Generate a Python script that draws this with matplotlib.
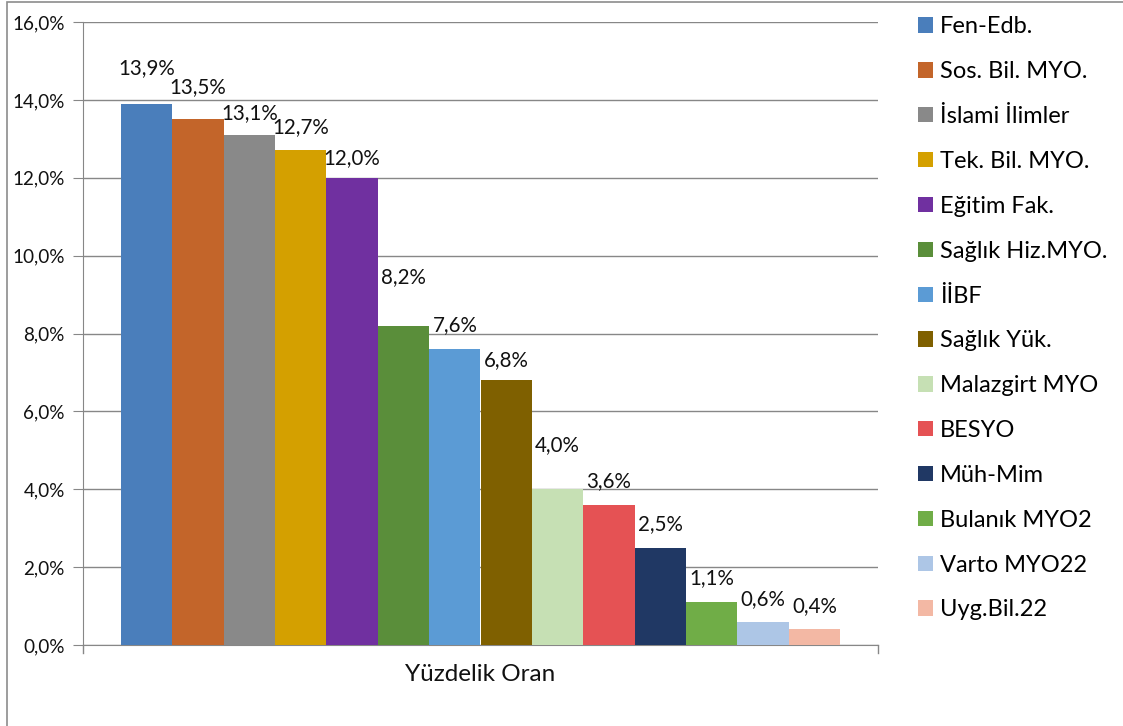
import matplotlib
matplotlib.use("Agg")
import matplotlib.pyplot as plt
from matplotlib.patches import Patch, Rectangle
from matplotlib.ticker import FuncFormatter

plt.rcParams['font.family'] = ['Lato', 'DejaVu Sans']

# data
birimler = ["Fen-Edb.", "Sos. Bil. MYO.", "İslami İlimler", "Tek. Bil. MYO.", "Eğitim Fak.",
            "Sağlık Hiz.MYO.", "İİBF", "Sağlık Yük.", "Malazgirt MYO", "BESYO",
            "Müh-Mim", "Bulanık MYO2", "Varto MYO22", "Uyg.Bil.22"]
oranlar = [13.9, 13.5, 13.1, 12.7, 12.0, 8.2, 7.6, 6.8, 4.0, 3.6, 2.5, 1.1, 0.6, 0.4]
renkler = ["#4A7EBB", "#C3652A", "#898989", "#D4A000", "#7030A0", "#5A8E3A", "#5B9BD5",
           "#7F6000", "#C6E0B4", "#E55254", "#203864", "#70AD47", "#ADC6E6", "#F3B8A4"]
y_ticks = [0, 2, 4, 6, 8, 10, 12, 14, 16]

# label offset above bar top (pixels), Excel pushes some up
label_off = [36, 32, 22, 23, 20, 49, 24, 20, 44, 24, 24, 24, 23, 23]

W, H = 1123, 726
fig = plt.figure(figsize=(W / 100, H / 100), dpi=100)
ax = fig.add_axes([83 / W, 1 - 645 / H, (878 - 83) / W, (645 - 22) / H])

x = list(range(len(oranlar)))
ax.bar(x, oranlar, width=1.0, color=renkler, zorder=3)
ax.set_xlim(-0.5 - 0.74, 13.5 + 0.74)
ax.set_ylim(0, 16)

# gridlines / axes
ax.set_yticks(y_ticks)
ax.yaxis.set_major_formatter(FuncFormatter(lambda v, p: f"{v:.1f}%".replace(".", ",")))
ax.grid(axis='y', color='#878787', linewidth=1.0, zorder=0)
ax.set_xticks([])
for s in ['top', 'right']:
    ax.spines[s].set_visible(False)
ax.spines['left'].set_color('#878787')
ax.spines['bottom'].set_color('#878787')
ax.tick_params(axis='y', length=7, color='#878787', labelsize=13.6, pad=6, labelcolor='#111111')
ax.set_xlabel("Yüzdelik Oran", fontsize=17.5, labelpad=14, color='#111111')

# little tick marks at ends of x axis
for xv in ax.get_xlim():
    ax.plot([xv, xv], [0, -0.2], color='#878787', linewidth=1.0, clip_on=False)

for xi, v, off in zip(x, oranlar, label_off):
    ax.annotate(f"{v:.1f}%".replace(".", ","), (xi, v), xytext=(0, off * 0.72),
                textcoords='offset points', ha='center', va='center',
                fontsize=14.8, color='#111111')

handles = [Patch(facecolor=c, edgecolor='none') for c in renkler]
fig.legend(handles, birimler, loc='upper left', bbox_to_anchor=(909 / W, 1 - 7 / H),
           frameon=False, fontsize=17, handlelength=0.62, handleheight=0.62,
           handletextpad=0.3, labelspacing=1.01, borderaxespad=0)

# outer chart border (cut off at right and bottom)
fig.patches.append(Rectangle((7 / W, -0.05), 1.1, 1 - 2 / H + 0.05, transform=fig.transFigure,
                             fill=False, edgecolor='#8c8c8c', linewidth=1.2))

fig.savefig("out.png", dpi=100)
